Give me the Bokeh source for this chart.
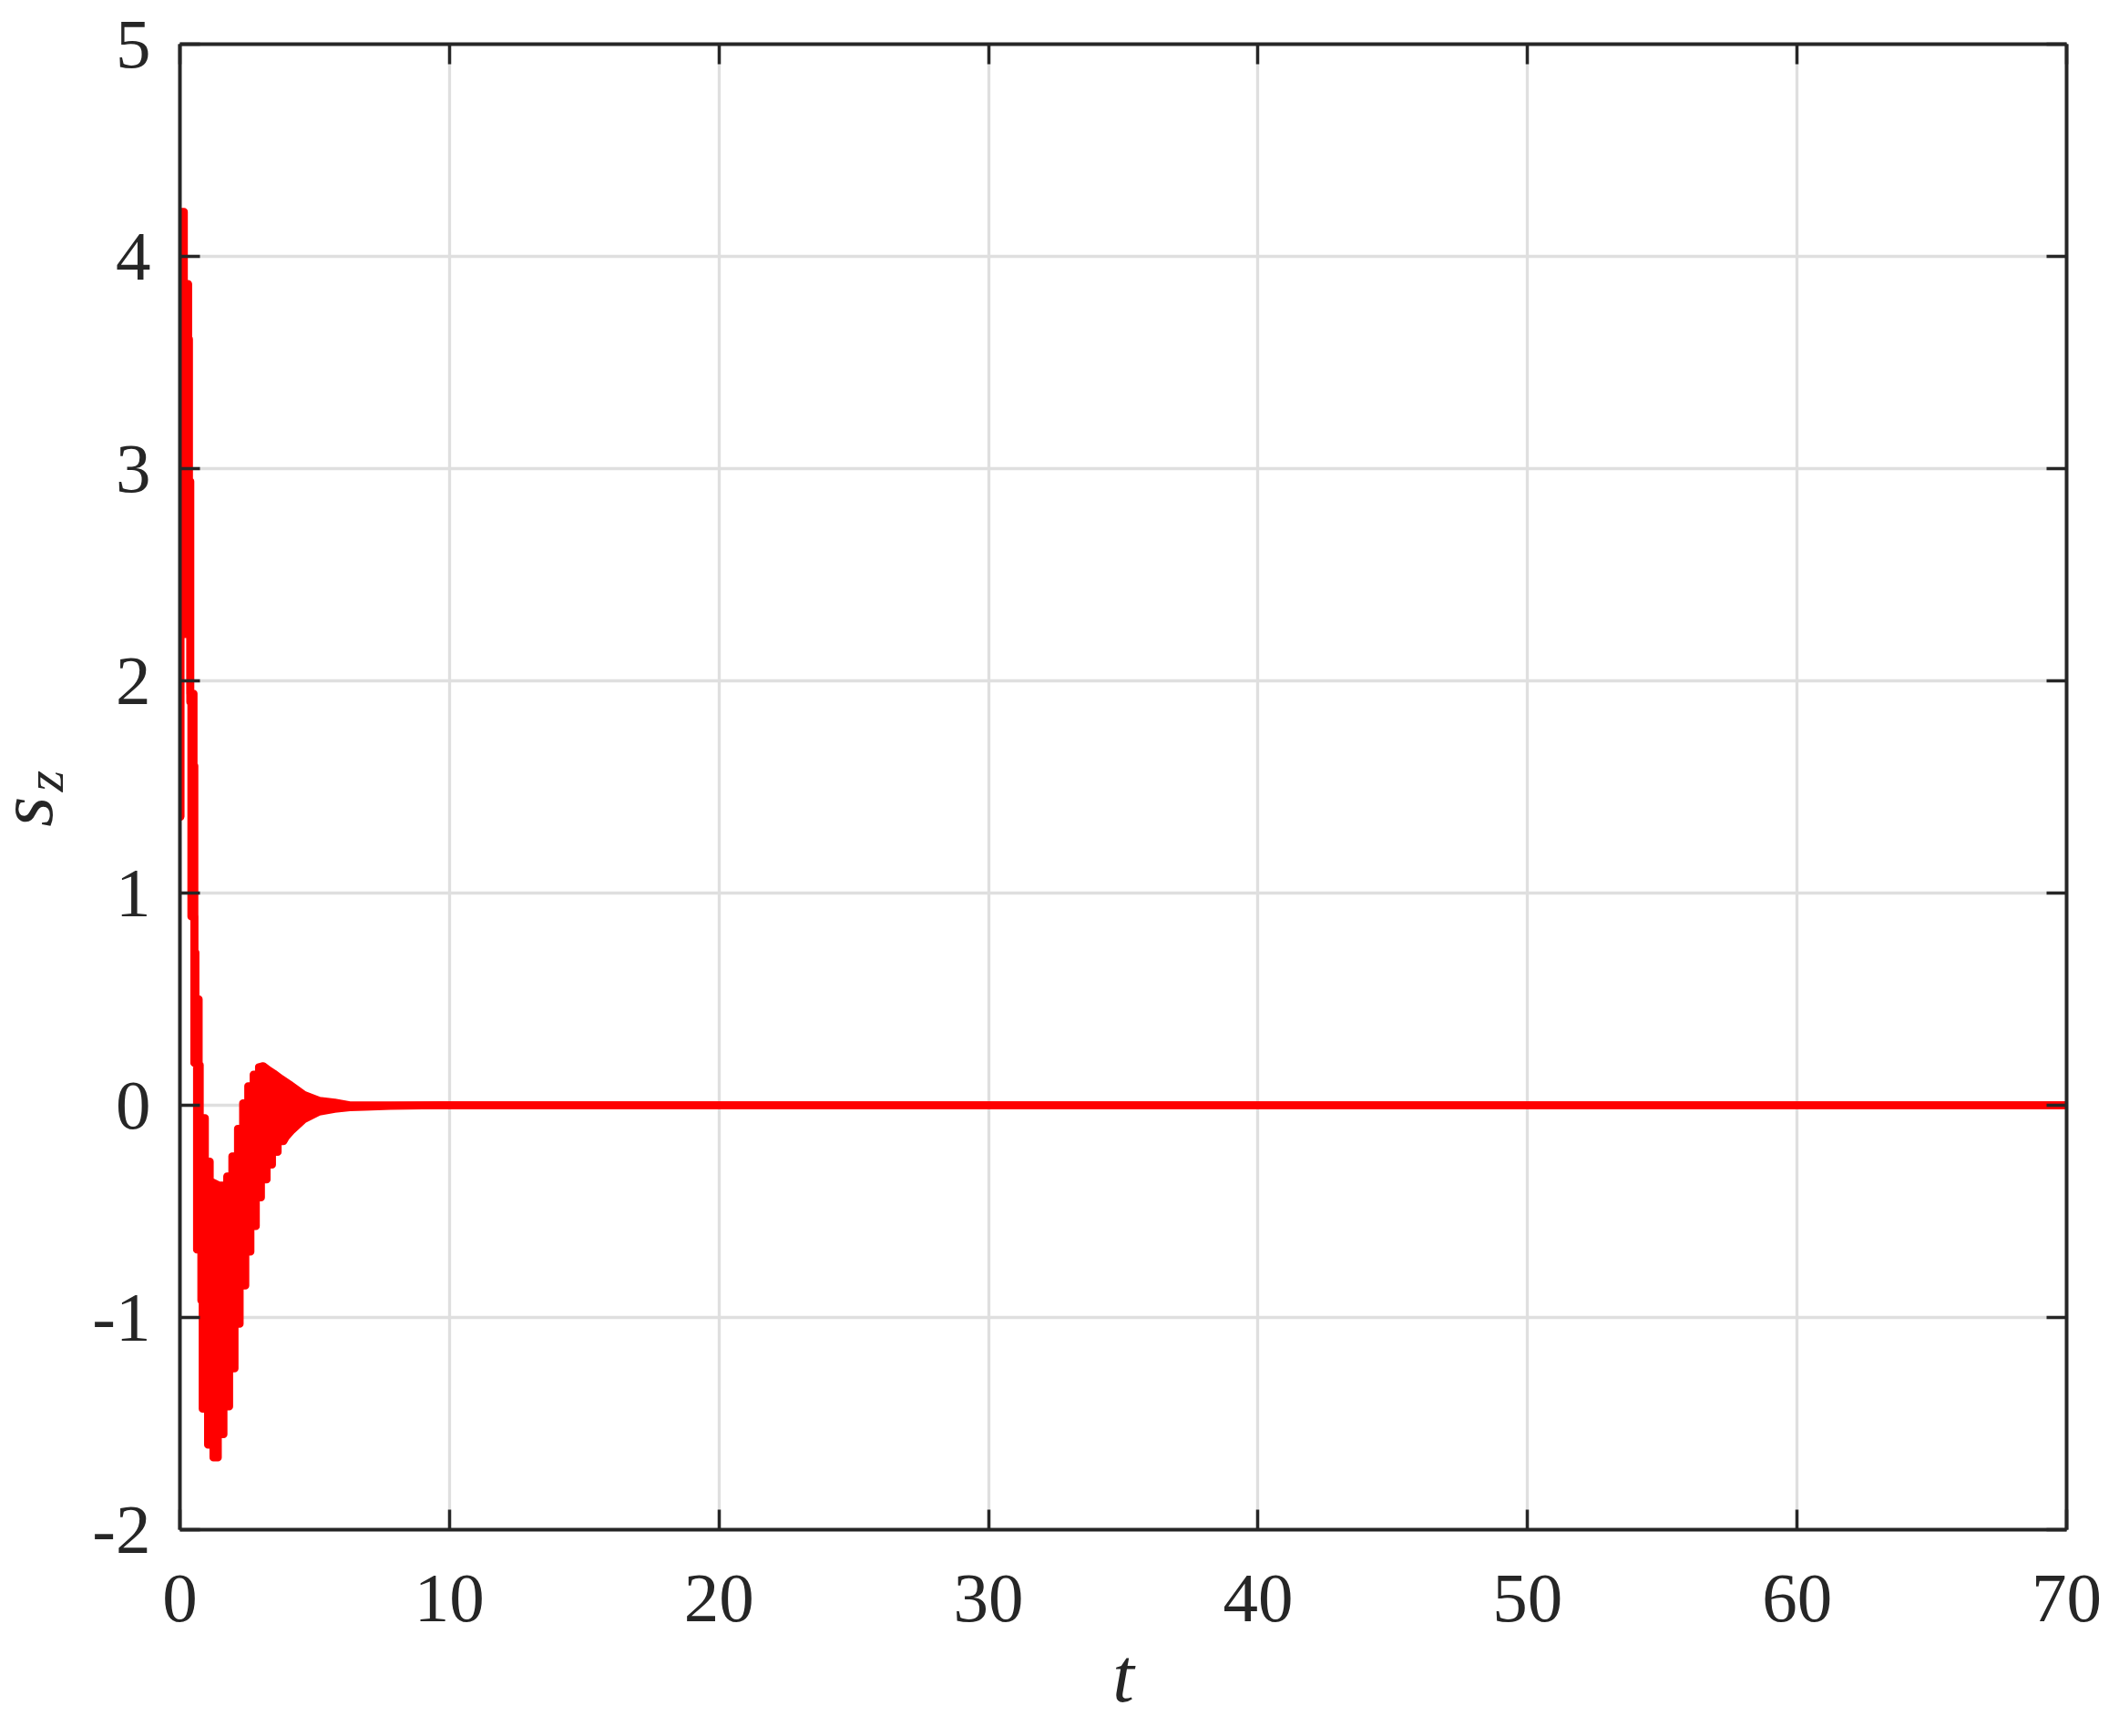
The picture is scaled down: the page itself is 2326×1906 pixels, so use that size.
from math import pi
from bokeh.plotting import figure
from bokeh.layouts import row
from bokeh.models import Range1d, LinearAxis, FixedTicker
from bokeh.core.properties import value
from bokeh.embed import file_html
from bokeh.resources import INLINE

# ---- data (envelope of the oscillating s_z signal) ----
upper_t = [0.02, 0.02, 0.15, 0.15, 0.31, 0.31, 0.34, 0.34, 0.39, 0.39, 0.51, 0.51,
           0.54, 0.54, 0.58, 0.58, 0.70, 0.70, 0.74, 0.74, 0.93, 0.93, 1.11, 1.11,
           1.45, 1.75, 1.75, 1.94, 1.94, 2.15, 2.15, 2.34, 2.34, 2.53, 2.53, 2.73,
           2.73, 2.93, 2.93, 3.09, 3.30, 3.48, 3.75, 4.05, 4.60, 5.17, 5.74, 6.30, 70.0]
upper_s = [1.36, 4.21, 4.21, 3.87, 3.87, 3.61, 3.61, 2.94, 2.94, 1.94, 1.94, 1.60,
           1.60, 0.72, 0.72, 0.50, 0.50, 0.19, 0.19, -0.06, -0.06, -0.265, -0.265, -0.357,
           -0.378, -0.378, -0.335, -0.335, -0.24, -0.24, -0.11, -0.11, 0.01, 0.01, 0.09, 0.09,
           0.145, 0.145, 0.18, 0.185, 0.165, 0.15, 0.125, 0.10, 0.05, 0.022, 0.013, 0.0, 0.0]

lower_t = [0.02, 0.02, 0.38, 0.38, 0.42, 0.42, 0.53, 0.53, 0.63, 0.63, 0.79, 0.79,
           0.84, 0.84, 1.04, 1.04, 1.24, 1.24, 1.41, 1.41, 1.62, 1.62, 1.83, 1.83,
           2.03, 2.03, 2.22, 2.22, 2.43, 2.43, 2.62, 2.62, 2.82, 2.82, 3.01, 3.01,
           3.22, 3.22, 3.42, 3.42, 3.63, 3.63, 3.84, 3.93, 4.16, 4.60, 5.17, 5.74,
           6.30, 6.86, 7.80, 9.60, 70.0]
lower_s = [1.36, 2.22, 2.22, 1.90, 1.90, 0.89, 0.89, 0.20, 0.20, -0.68, -0.68, -0.92,
           -0.92, -1.43, -1.43, -1.60, -1.60, -1.66, -1.66, -1.55, -1.55, -1.42, -1.42, -1.24,
           -1.24, -1.03, -1.03, -0.85, -0.85, -0.69, -0.69, -0.57, -0.57, -0.435, -0.435, -0.35,
           -0.35, -0.28, -0.28, -0.22, -0.22, -0.17, -0.17, -0.15, -0.117, -0.066, -0.03, -0.017,
           -0.01, -0.007, -0.003, 0.0, 0.0]

x_ticks = [0, 10, 20, 30, 40, 50, 60, 70]
y_ticks = [-2, -1, 0, 1, 2, 3, 4, 5]
x_label = "t"
y_label_main = "s"
y_label_sub = "z"

DARK = "#262626"
RED = "#ff0000"
FONT = "Liberation Serif"
LEFT_W = 84
TOTAL_W = 2326
TOTAL_H = 1906

# ---- main plot ----
p = figure(width=TOTAL_W - LEFT_W, height=TOTAL_H, output_backend="svg", toolbar_location=None,
           x_range=Range1d(0, 70), y_range=Range1d(-2, 5),
           min_border_left=197 - LEFT_W, min_border_right=58, min_border_top=48,
           min_border_bottom=227)
p.background_fill_color = "white"
p.border_fill_color = "white"
p.outline_line_color = None

p.patch(upper_t + lower_t[::-1], upper_s + lower_s[::-1], fill_color=RED, line_color=None)
p.line(upper_t, upper_s, line_color=RED, line_width=8.5, line_join="round", line_cap="round")
p.line(lower_t, lower_s, line_color=RED, line_width=8.5, line_join="round", line_cap="round")

for g, ticks in ((p.xgrid[0], x_ticks), (p.ygrid[0], y_ticks)):
    g.ticker = FixedTicker(ticks=ticks)
    g.grid_line_color = "#dfdfdf"
    g.grid_line_width = 3.3

bottom_ax = p.below[0]
left_ax = p.left[0]
top_ax = LinearAxis()
right_ax = LinearAxis()
p.add_layout(top_ax, "above")
p.add_layout(right_ax, "right")

for ax, ticks in ((bottom_ax, x_ticks), (top_ax, x_ticks), (left_ax, y_ticks), (right_ax, y_ticks)):
    ax.ticker = FixedTicker(ticks=ticks)
    ax.axis_line_color = DARK
    ax.axis_line_width = 4
    ax.major_tick_line_color = DARK
    ax.major_tick_line_width = 3.5
    ax.major_tick_in = 22
    ax.major_tick_out = 0
    ax.minor_tick_line_color = None
    ax.major_label_text_font = FONT
    ax.major_label_text_font_size = "77px"
    ax.major_label_text_color = DARK

left_ax.major_label_overrides = {-2: "-2", -1: "-1"}
bottom_ax.major_label_standoff = 50
left_ax.major_label_standoff = 32
top_ax.major_label_overrides = {t: "" for t in x_ticks}
right_ax.major_label_overrides = {t: "" for t in y_ticks}
for ax in (top_ax, right_ax):
    ax.major_label_text_font_size = "1px"
    ax.major_label_standoff = 0

bottom_ax.axis_label = x_label
bottom_ax.axis_label_text_font = FONT
bottom_ax.axis_label_text_font_style = "italic"
bottom_ax.axis_label_text_font_size = "85px"
bottom_ax.axis_label_text_color = DARK
bottom_ax.axis_label_standoff = 9

# ---- left strip carrying the y-axis label s_z ----
lab = figure(width=LEFT_W, height=TOTAL_H, output_backend="svg", toolbar_location=None,
             x_range=Range1d(0, LEFT_W), y_range=Range1d(TOTAL_H, 0),
             x_axis_location=None, y_axis_location=None,
             min_border=0, min_border_left=0, min_border_right=0,
             min_border_top=0, min_border_bottom=0)
lab.outline_line_color = None
lab.grid.visible = False
lab.background_fill_color = "white"
lab.border_fill_color = "white"
lab.text(x=[27], y=[1004], text=[y_label_main], angle=pi / 2,
         text_font=value(FONT), text_font_style="italic", text_font_size="85px",
         text_color=DARK, text_align="left", text_baseline="alphabetic")
lab.text(x=[48], y=[959], text=[y_label_sub], angle=pi / 2,
         text_font=value(FONT), text_font_style="italic", text_font_size="60px",
         text_color=DARK, text_align="left", text_baseline="alphabetic")

layout = row(lab, p, spacing=0)
open("out.html", "w").write(file_html(layout, INLINE))
